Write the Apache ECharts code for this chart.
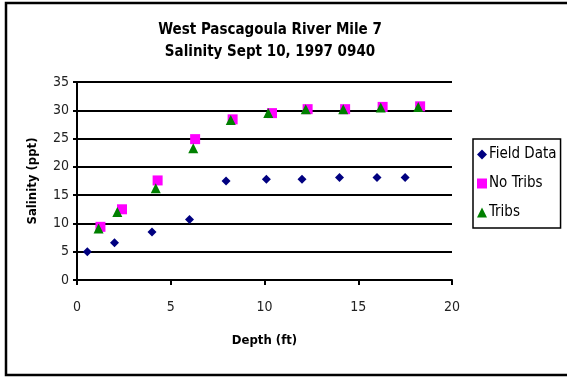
<!DOCTYPE html>
<html>
<head>
<meta charset="utf-8">
<script src="https://cdn.jsdelivr.net/npm/echarts@6/dist/echarts.min.js"></script>
<style>
html,body{margin:0;padding:0;background:#fff;}
#c{width:567px;height:378px;}
</style>
</head>
<body>
<div id="c"></div>
<script>
var titleLines = ['West Pascagoula River Mile 7', 'Salinity Sept 10, 1997 0940'];
var xName = 'Depth (ft)';
var yName = 'Salinity (ppt)';
var seriesNames = ['Field Data', 'No Tribs', 'Tribs'];

var fieldX = [0.55, 2.0, 4.0, 6.0, 7.95, 10.1, 12.0, 14.0, 16.0, 17.5];
var fieldY = [5.0, 6.6, 8.5, 10.7, 17.5, 17.8, 17.8, 18.1, 18.1, 18.1];

var noTribsX = [1.25, 2.4, 4.3, 6.3, 8.3, 10.4, 12.3, 14.3, 16.3, 18.3];
var noTribsY = [9.4, 12.5, 17.6, 24.9, 28.4, 29.5, 30.2, 30.2, 30.6, 30.7];

var tribsX = [1.15, 2.15, 4.2, 6.2, 8.2, 10.2, 12.2, 14.2, 16.2, 18.2];
var tribsY = [9.1, 12.0, 16.2, 23.3, 28.3, 29.5, 30.2, 30.2, 30.5, 30.6];

function pairs(xs, ys){ return xs.map(function(x,i){ return [x, ys[i]]; }); }

var FONT = '"DejaVu Sans Condensed", "Liberation Sans Narrow", "Arial Narrow", sans-serif';

var chart = echarts.init(document.getElementById('c'), null, {renderer:'canvas'});
chart.setOption({
  animation: false,
  backgroundColor: '#ffffff',
  textStyle: {fontFamily: FONT},
  title: {
    text: titleLines.join('\n'),
    left: 265, top: 14, textAlign: 'center',
    textStyle: {fontFamily: FONT, fontSize: 15, fontWeight: 'bold', color: '#000', lineHeight: 22}
  },
  graphic: [{
    type: 'rect', z: 100, silent: true,
    shape: {x: 6, y: 3, width: 620, height: 372},
    style: {fill: 'none', stroke: '#000', lineWidth: 2.5}
  }],
  legend: {
    orient: 'vertical',
    left: 473, top: 139,
    width: 89,
    padding: [8, 4, 8, 4],
    itemGap: 14,
    itemWidth: 10, itemHeight: 10,
    borderColor: '#000', borderWidth: 1.5, borderRadius: 0,
    textStyle: {fontFamily: FONT, fontSize: 15, color: '#000', padding: [0,0,0,-3]},
    data: [
      {name: seriesNames[0], icon: 'diamond'},
      {name: seriesNames[1], icon: 'rect'},
      {name: seriesNames[2], icon: 'triangle'}
    ]
  },
  grid: {left: 77, right: 115, top: 82, bottom: 98},
  xAxis: {
    type: 'value', min: 0, max: 20, interval: 5,
    name: xName, nameLocation: 'middle', nameGap: 54,
    nameTextStyle: {fontFamily: FONT, fontSize: 13, fontWeight: 'bold', color: '#000'},
    axisLine: {show: true, onZero: false, lineStyle: {color: '#000', width: 2}},
    axisTick: {show: true, length: 5, lineStyle: {color: '#000', width: 2}},
    axisLabel: {fontFamily: FONT, fontSize: 14, color: '#222', margin: 20},
    splitLine: {show: false}
  },
  yAxis: {
    type: 'value', min: 0, max: 35, interval: 5,
    name: yName, nameLocation: 'middle', nameGap: 38, nameRotate: 90,
    nameTextStyle: {fontFamily: FONT, fontSize: 13, fontWeight: 'bold', color: '#000'},
    axisLine: {show: true, lineStyle: {color: '#000', width: 2}},
    axisTick: {show: true, length: 4, lineStyle: {color: '#000', width: 2}},
    axisLabel: {fontFamily: FONT, fontSize: 14, color: '#222', margin: 8},
    splitLine: {show: true, lineStyle: {color: '#000', width: 2}}
  },
  series: [
    {name: seriesNames[0], type: 'scatter', symbol: 'diamond', symbolSize: 9,
     itemStyle: {color: '#000080', opacity: 1}, data: pairs(fieldX, fieldY), z: 3},
    {name: seriesNames[1], type: 'scatter', symbol: 'rect', symbolSize: 10,
     itemStyle: {color: '#ff00ff', opacity: 1}, data: pairs(noTribsX, noTribsY), z: 4},
    {name: seriesNames[2], type: 'scatter', symbol: 'triangle', symbolSize: 10,
     itemStyle: {color: '#008000', opacity: 1}, data: pairs(tribsX, tribsY), z: 5}
  ]
});
</script>
</body>
</html>
